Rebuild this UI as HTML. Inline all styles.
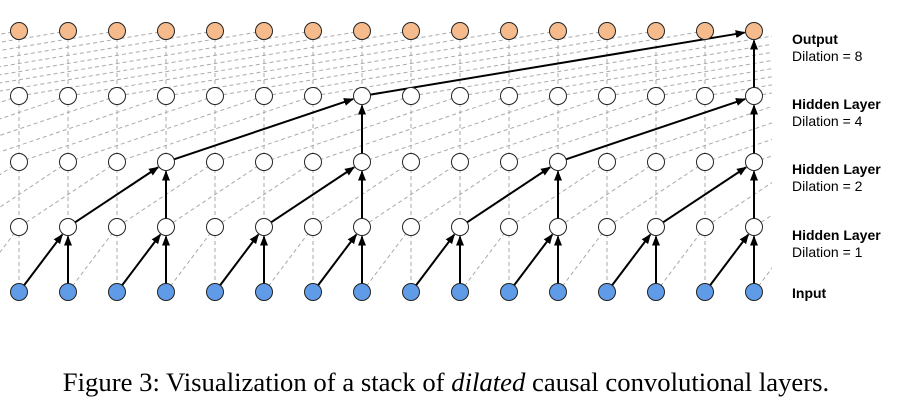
<!DOCTYPE html>
<html><head><meta charset="utf-8"><style>
body{margin:0;background:#fff;width:924px;height:412px;overflow:hidden}
.lb{position:absolute;left:792px;font-family:"Liberation Sans",sans-serif;font-size:14px;line-height:17px;color:#000}
.cap{position:absolute;top:367px;left:-4px;width:900px;text-align:center;font-family:"Liberation Serif",serif;font-size:26.7px;line-height:30px;white-space:nowrap}
</style></head><body>
<svg id="s" width="924" height="412" style="position:absolute;left:0;top:0">
<defs><marker id="a" markerWidth="10" markerHeight="10" refX="9" refY="5" orient="auto" markerUnits="userSpaceOnUse"><path d="M0,1 L10,5 L0,9 z" fill="#000"/></marker>
<clipPath id="c"><rect x="0" y="0" width="772" height="330"/></clipPath></defs>
<g id="g" clip-path="url(#c)"></g>
</svg>
<div class="lb" style="top:31px"><b>Output</b><br>Dilation = 8</div>
<div class="lb" style="top:96px"><b>Hidden Layer</b><br>Dilation = 4</div>
<div class="lb" style="top:161px"><b>Hidden Layer</b><br>Dilation = 2</div>
<div class="lb" style="top:227px"><b>Hidden Layer</b><br>Dilation = 1</div>
<div class="lb" style="top:285px"><b>Input</b></div>
<div class="cap">Figure 3: Visualization of a stack of <i>dilated</i> causal convolutional layers.</div>
<script>
const s=document.getElementById('s'),g=document.getElementById('g');
const X=j=>19+49*j, Y=[292,227,162,96,31], D=[1,2,4,8], r=8.5;
let h='',k='';
for(let L=1;L<5;L++){const d=D[L-1];for(let j=0;j<16+d;j++){
 if(j<16)k+=`<line x1="${X(j)}" y1="${Y[L]}" x2="${X(j)}" y2="${Y[L-1]}" stroke="#aaa" stroke-dasharray="4,3" stroke-width="1"/>`;
 k+=`<line x1="${X(j)}" y1="${Y[L]}" x2="${X(j-d)}" y2="${Y[L-1]}" stroke="#aaa" stroke-dasharray="4,3" stroke-width="1"/>`;}}
g.innerHTML=k;
function arr(j1,L1,j2,L2){const x1=X(j1),y1=Y[L1],x2=X(j2),y2=Y[L2];const dx=x2-x1,dy=y2-y1,l=Math.hypot(dx,dy);
 h+=`<line x1="${x1+dx/l*r}" y1="${y1+dy/l*r}" x2="${x2-dx/l*(r+1)}" y2="${y2-dy/l*(r+1)}" stroke="#000" stroke-width="2" marker-end="url(#a)"/>`;}
for(let L=1;L<5;L++){const d=D[L-1],p=2*d;for(let j=0;j<16;j++){if((j+1)%p==0){arr(j,L-1,j,L);arr(j-d,L-1,j,L);}}}
for(let L=0;L<5;L++)for(let j=0;j<16;j++){const f=L==0?'#5f9be6':L==4?'#f5bb8c':'#fff';
 h+=`<circle cx="${X(j)}" cy="${Y[L]}" r="${r}" fill="${f}" stroke="#222" stroke-width="1"/>`;}
s.insertAdjacentHTML('beforeend',h);
</script>
</body></html>
